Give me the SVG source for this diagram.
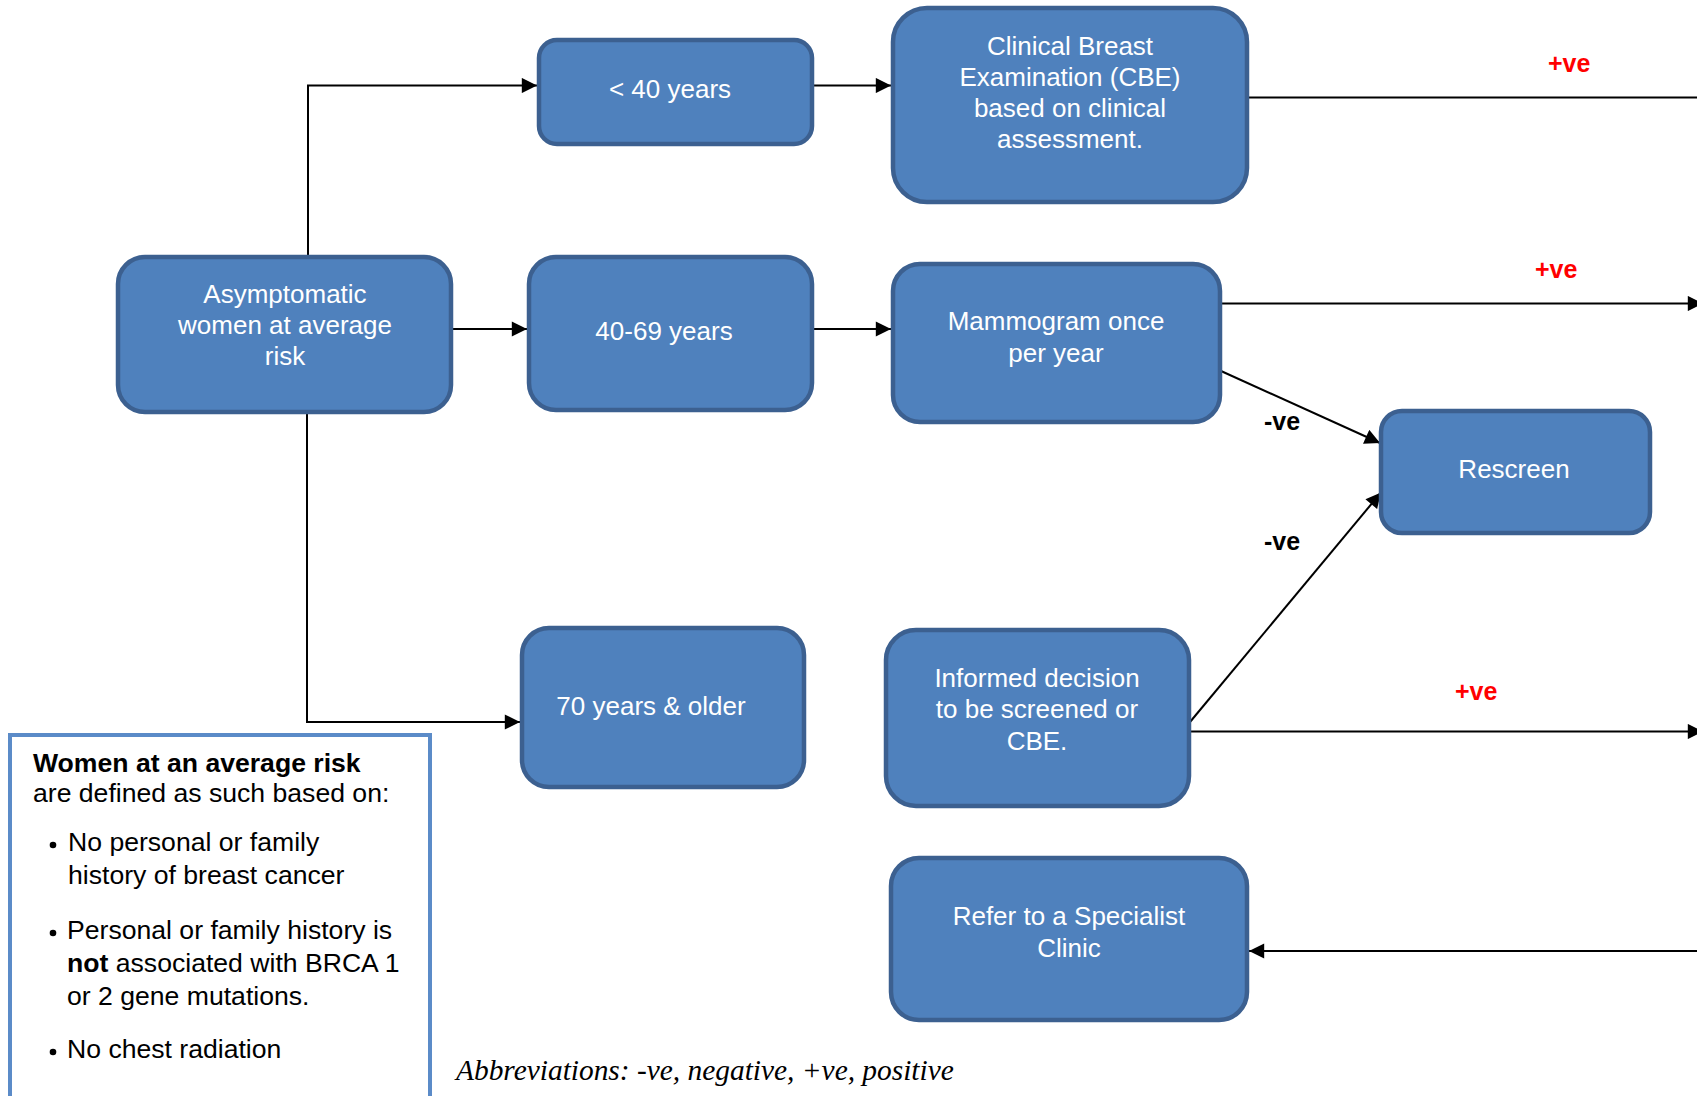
<svg xmlns="http://www.w3.org/2000/svg" width="1697" height="1096" viewBox="0 0 1697 1096">
  <defs>
    <marker id="arrow" viewBox="0 0 10 10" refX="10" refY="5" markerWidth="8" markerHeight="7.6" markerUnits="strokeWidth" orient="auto">
      <path d="M0,0 L10,5 L0,10 z" fill="#000"/>
    </marker>
    <style>
      .box { fill: #4f81bd; stroke: #3c6090; stroke-width: 4.5; }
      .label { font-family: "Liberation Sans", Arial, sans-serif; font-size: 26px; fill: #ffffff; text-anchor: middle; }
      .edge { fill: none; stroke: #000; stroke-width: 2; }
      .pos { font-family: "Liberation Sans", Arial, sans-serif; font-size: 25px; font-weight: bold; fill: #ff0000; }
      .neg { font-family: "Liberation Sans", Arial, sans-serif; font-size: 25px; font-weight: bold; fill: #000; }
      .legend { font-family: "Liberation Sans", Arial, sans-serif; font-size: 26.6px; fill: #000; }
      .abbr { font-family: "Liberation Serif", "Times New Roman", serif; font-size: 29.4px; font-style: italic; fill: #000; }
    </style>
  </defs>

  <!-- connectors -->
  <g id="connectors">
    <path class="edge" d="M308,257 V85.5 H537" marker-end="url(#arrow)"/>
    <path class="edge" d="M451,329 H527" marker-end="url(#arrow)"/>
    <path class="edge" d="M307,412 V722 H520" marker-end="url(#arrow)"/>
    <path class="edge" d="M812,85.5 H891" marker-end="url(#arrow)"/>
    <path class="edge" d="M812,329 H891" marker-end="url(#arrow)"/>
    <path class="edge" d="M1247,97.5 H1700"/>
    <path class="edge" d="M1220,303.5 H1703" marker-end="url(#arrow)"/>
    <path class="edge" d="M1221,371 L1380,443" marker-end="url(#arrow)"/>
    <path class="edge" d="M1190,722 L1381,492.5" marker-end="url(#arrow)"/>
    <path class="edge" d="M1189,731.5 H1703" marker-end="url(#arrow)"/>
    <path class="edge" d="M1700,951 H1249" marker-end="url(#arrow)"/>
    <text class="pos" x="1548" y="72">+ve</text>
    <text class="pos" x="1535" y="278">+ve</text>
    <text class="neg" x="1264" y="430">-ve</text>
    <text class="neg" x="1264" y="550">-ve</text>
    <text class="pos" x="1455" y="700">+ve</text>
  </g>

  <!-- nodes -->
  <g id="node-asymptomatic">
    <rect class="box" x="118" y="257" width="333" height="155" rx="27"/>
    <text class="label" x="285" y="303">Asymptomatic</text>
    <text class="label" x="285" y="334">women at average</text>
    <text class="label" x="285" y="365">risk</text>
  </g>
  <g id="node-under40">
    <rect class="box" x="539" y="40" width="273" height="104" rx="18"/>
    <text class="label" x="670" y="98">&lt; 40 years</text>
  </g>
  <g id="node-40to69">
    <rect class="box" x="529" y="257" width="283" height="153" rx="27"/>
    <text class="label" x="664" y="340">40-69 years</text>
  </g>
  <g id="node-70plus">
    <rect class="box" x="522" y="628" width="282" height="159" rx="27"/>
    <text class="label" x="651" y="715">70 years &amp; older</text>
  </g>
  <g id="node-cbe">
    <rect class="box" x="893" y="8" width="354" height="194" rx="34"/>
    <text class="label" x="1070" y="55">Clinical Breast</text>
    <text class="label" x="1070" y="86">Examination (CBE)</text>
    <text class="label" x="1070" y="117">based on clinical</text>
    <text class="label" x="1070" y="148">assessment.</text>
  </g>
  <g id="node-mammogram">
    <rect class="box" x="893" y="264" width="327" height="158" rx="27"/>
    <text class="label" x="1056" y="330">Mammogram once</text>
    <text class="label" x="1056" y="362">per year</text>
  </g>
  <g id="node-rescreen">
    <rect class="box" x="1381" y="411" width="269" height="122" rx="21"/>
    <text class="label" x="1514" y="478">Rescreen</text>
  </g>
  <g id="node-informed">
    <rect class="box" x="886" y="630" width="303" height="176" rx="30"/>
    <text class="label" x="1037" y="687">Informed decision</text>
    <text class="label" x="1037" y="718">to be screened or</text>
    <text class="label" x="1037" y="750">CBE.</text>
  </g>
  <g id="node-refer">
    <rect class="box" x="891" y="858" width="356" height="162" rx="28"/>
    <text class="label" x="1069" y="925">Refer to a Specialist</text>
    <text class="label" x="1069" y="957">Clinic</text>
  </g>

  <!-- definition panel -->
  <g id="legend">
    <rect x="10" y="735" width="420" height="380" fill="#ffffff" stroke="#5b8bc8" stroke-width="4"/>
    <text class="legend" x="33" y="772" font-weight="bold">Women at an average risk</text>
    <text class="legend" x="33" y="802">are defined as such based on:</text>
    <circle cx="53" cy="845" r="3.3" fill="#000"/>
    <text class="legend" x="68" y="851">No personal or family</text>
    <text class="legend" x="68" y="884">history of breast cancer</text>
    <circle cx="53" cy="933" r="3.3" fill="#000"/>
    <text class="legend" x="67" y="939">Personal or family history is</text>
    <text class="legend" x="67" y="972"><tspan font-weight="bold">not</tspan> associated with BRCA 1</text>
    <text class="legend" x="67" y="1005">or 2 gene mutations.</text>
    <circle cx="53" cy="1052" r="3.3" fill="#000"/>
    <text class="legend" x="67" y="1058">No chest radiation</text>
  </g>

  <text class="abbr" x="456" y="1080">Abbreviations: -ve, negative, +ve, positive</text>
</svg>
